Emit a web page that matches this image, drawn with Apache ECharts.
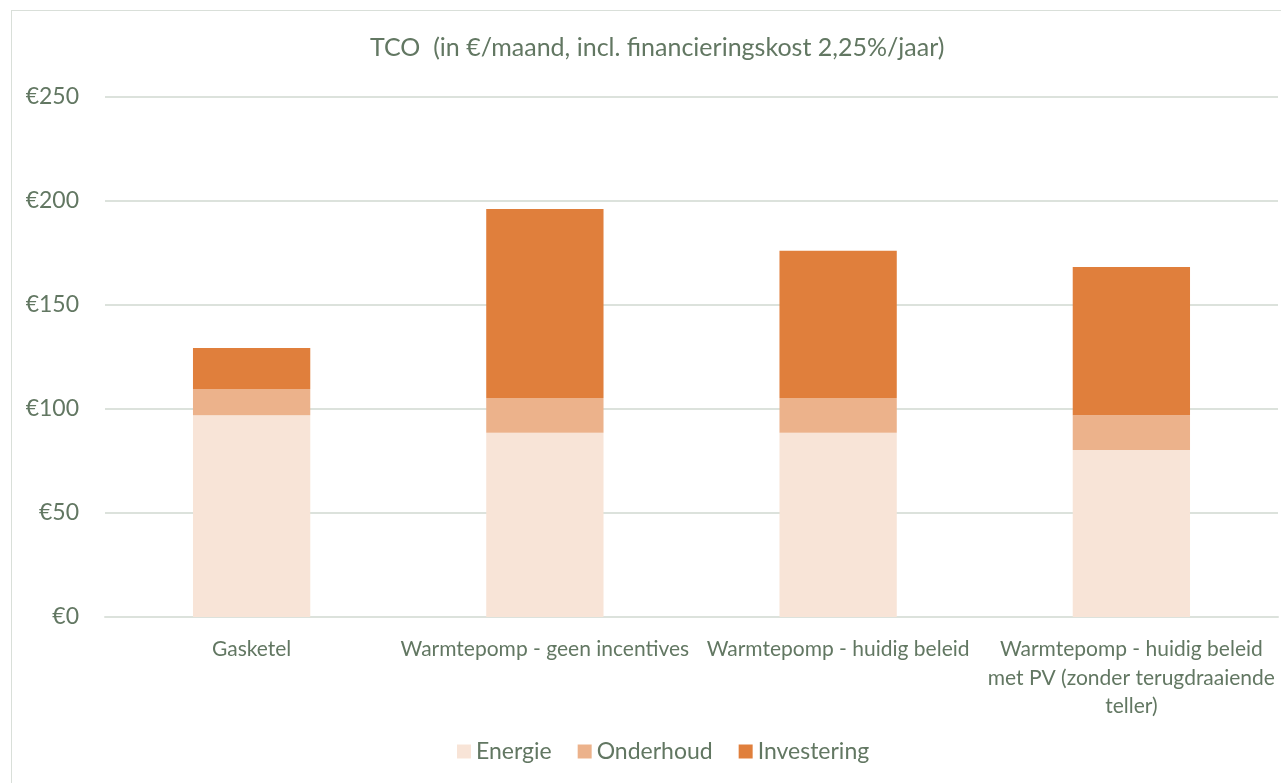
<!DOCTYPE html>
<html>
<head>
<meta charset="utf-8">
<script src="https://cdn.jsdelivr.net/npm/echarts@6/dist/echarts.min.js"></script>
<style>
  html, body { margin: 0; padding: 0; overflow: hidden; background: #fff; }
  #chart { position: absolute; left: 0; top: 0; width: 1281px; height: 783px; }
  #frame { position: absolute; left: 11px; top: 10px; width: 1400px; height: 900px;
           border: 1px solid #d9dfd9; pointer-events: none; }
</style>
</head>
<body>
<div id="chart"></div>
<div id="frame"></div>
<script>
// categorieën en waarden (€/maand)
const categories = [
  'Gasketel',
  'Warmtepomp - geen incentives',
  'Warmtepomp - huidig beleid',
  'Warmtepomp - huidig beleid\nmet PV (zonder terugdraaiende\nteller)'
];
const energie = [97, 88.6, 88.6, 80.3];
const onderhoud = [12.6, 16.7, 16.7, 16.7];
const investering = [19.7, 90.9, 70.8, 71.3];

const textColor = '#627762';
const font = 'Lato, "Open Sans", sans-serif';

let myChart = echarts.init(document.getElementById('chart'));
let option = {
  animation: false,
  title: {
    text: 'TCO  (in €/maand, incl. financieringskost 2,25%/jaar)',
    left: 365,
    top: 30,
    textStyle: { color: textColor, fontFamily: font, fontSize: 25, fontWeight: 'normal' }
  },
  legend: {
    left: 452,
    top: 735,
    itemWidth: 14,
    itemHeight: 14,
    itemGap: 26,
    icon: 'rect',
    textStyle: { color: textColor, fontFamily: font, fontSize: 23 }
  },
  grid: { left: 105, right: 3, top: 97, bottom: 166 },
  xAxis: {
    type: 'category',
    data: categories,
    axisLine: { lineStyle: { color: '#dce2dc', width: 2 } },
    axisTick: { show: false },
    axisLabel: {
      color: textColor, fontFamily: font, fontSize: 21,
      margin: 18, lineHeight: 28.5, interval: 0
    }
  },
  yAxis: {
    type: 'value',
    min: 0,
    max: 250,
    interval: 50,
    axisLine: { show: false },
    axisTick: { show: false },
    splitLine: { lineStyle: { color: '#dce2dc', width: 2 } },
    axisLabel: {
      color: textColor, fontFamily: font, fontSize: 23, margin: 26,
      formatter: function (v) { return '€' + v; }
    }
  },
  series: [
    { name: 'Energie', type: 'bar', stack: 'tco', barWidth: '40%', data: energie,
      itemStyle: { color: '#f8e4d7' } },
    { name: 'Onderhoud', type: 'bar', stack: 'tco', data: onderhoud,
      itemStyle: { color: '#ecb28b' } },
    { name: 'Investering', type: 'bar', stack: 'tco', data: investering,
      itemStyle: { color: '#e07f3c' } }
  ]
};
myChart.setOption(option);
</script>
</body>
</html>
